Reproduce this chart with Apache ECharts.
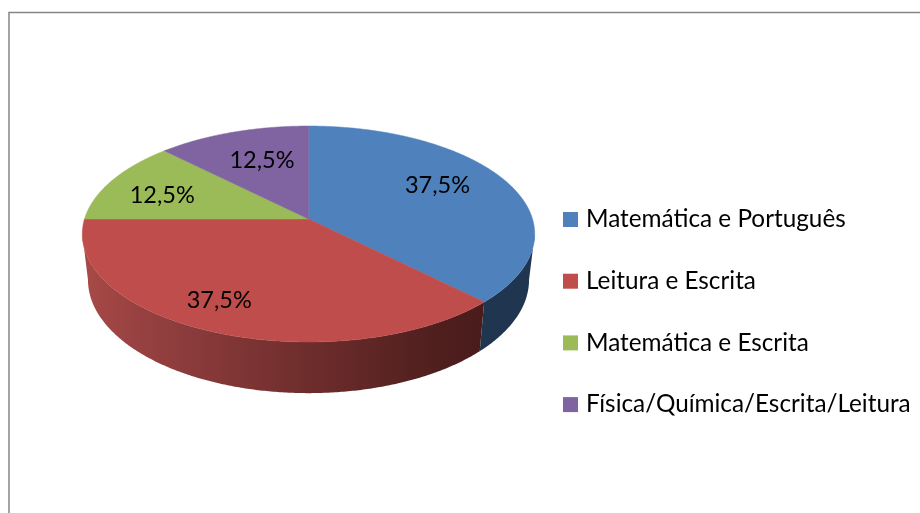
<!DOCTYPE html>
<html>
<head>
<meta charset="utf-8">
<title>Pie</title>
<script src="https://cdn.jsdelivr.net/npm/echarts@6/dist/echarts.min.js"></script>
<style>
  html, body { margin: 0; padding: 0; background: #fff; }
  #chart { width: 920px; height: 513px; }
</style>
</head>
<body>
<div id="chart"></div>
<script>
const categories = ['Matemática e Português', 'Leitura e Escrita', 'Matemática e Escrita', 'Física/Química/Escrita/Leitura'];
const shares = [37.5, 37.5, 12.5, 12.5];
const colors = ['#4F81BD', '#BE4D4B', '#9BBB59', '#8064A2'];

// where each percentage sits inside its slice: fraction of the radius, degrees off the slice middle
const labelRadius = [0.685, 0.78, 0.71, 0.643];
const labelTurn = [-6, 5, -4, 2];

// tilted disc, drawn with a small perspective so the near half comes out bigger
const apex = [308.5, 219];
const radiusX = 224;
const radiusY = 105.9;
const tilt = 0.139;
const dropY = 45;
const rimScaleX = 0.975;
const rimScaleY = 1.05;
const rimFrom = 98;
const rimTo = 262;

const project = (deg, r = 1) => {
  const a = deg * Math.PI / 180;
  const u = Math.sin(a) * r;
  const v = -Math.cos(a) * r;
  const d = 1 - tilt * v;
  return [radiusX * u / d, radiusY * v / d];
};
const topPoint = (deg, r = 1) => {
  const p = project(deg, r);
  return [apex[0] + p[0], apex[1] + p[1]];
};
const rimPoint = (deg) => {
  const p = project(deg);
  return [apex[0] + p[0] * rimScaleX, apex[1] + dropY + p[1] * rimScaleY];
};
const sweep = (from, to, fn) => {
  const pts = [];
  const steps = Math.max(2, Math.ceil((to - from) * 2));
  for (let i = 0; i <= steps; i++) pts.push(fn(from + (to - from) * i / steps));
  return pts;
};

const rimFills = [
  '#1F3550',
  new echarts.graphic.LinearGradient(1, 0, 0, 0, [
    { offset: 0, color: '#491C1B' },
    { offset: 0.12, color: '#4F1F1E' },
    { offset: 0.5, color: '#74302F' },
    { offset: 0.85, color: '#964041' },
    { offset: 1, color: '#A84A47' }
  ]),
  '#6F8A3E',
  '#5C4778'
];

const total = shares.reduce((a, b) => a + b, 0);

const sliceSeries = categories.map((name, i) => {
  const before = shares.slice(0, i).reduce((a, b) => a + b, 0);
  return {
    type: 'custom',
    name,
    coordinateSystem: 'none',
    silent: true,
    data: [shares[i]],
    renderItem: (params, api) => {
      const value = api.value(0);
      const start = before / total * 360;
      const end = start + value / total * 360;
      const children = [];

      const rimA = Math.max(start, rimFrom);
      const rimB = Math.min(end, rimTo);
      if (rimB > rimA) {
        children.push({
          type: 'polygon',
          shape: { points: sweep(rimA, rimB, topPoint).concat(sweep(rimA, rimB, rimPoint).reverse()) },
          style: { fill: rimFills[i] }
        });
      }

      children.push({
        type: 'polygon',
        shape: { points: [apex].concat(sweep(start, end, topPoint)) },
        style: { fill: colors[i], stroke: colors[i], lineWidth: 0.5 }
      });

      const spot = topPoint((start + end) / 2 + labelTurn[i], labelRadius[i]);
      children.push({
        type: 'text',
        z2: 10,
        x: spot[0],
        y: spot[1],
        style: {
          text: value.toFixed(1).replace('.', ',') + '%',
          font: '23.5px Lato',
          fill: '#000',
          align: 'center',
          verticalAlign: 'middle'
        }
      });
      return { type: 'group', children };
    }
  };
});

const chart = echarts.init(document.querySelector('#chart'));
chart.setOption({
  animation: false,
  backgroundColor: '#fff',
  color: colors,
  legend: {
    orient: 'vertical',
    left: 563,
    top: 207,
    padding: 0,
    icon: 'rect',
    itemWidth: 15,
    itemHeight: 15,
    itemGap: 36.7,
    selectedMode: false,
    data: categories,
    textStyle: { fontFamily: 'Lato', fontSize: 24.3, color: '#000', lineHeight: 25, padding: [0, 0, 0, 3] }
  },
  graphic: [{
    type: 'polyline',
    silent: true,
    shape: { points: [[9, 513], [9, 12.5], [920, 12.5]] },
    style: { stroke: '#868686', lineWidth: 1.5, fill: null }
  }],
  series: sliceSeries
});
window.addEventListener('resize', () => chart.resize());
</script>
</body>
</html>
